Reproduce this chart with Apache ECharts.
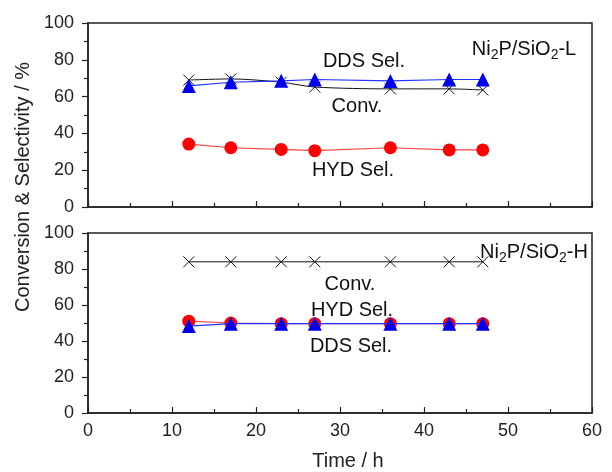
<!DOCTYPE html>
<html><head><meta charset="utf-8">
<script src="https://cdn.jsdelivr.net/npm/echarts@6/dist/echarts.min.js"></script>
<style>html,body{margin:0;padding:0;background:#fff}#c{width:612px;height:472px}</style>
</head><body><div id="c"></div>
<script>
var time = [12, 17, 23, 27, 36, 43, 47];
var convL = [69.0, 69.6, 67.8, 65.2, 64.2, 64.2, 63.6];
var ddsL  = [65.8, 67.8, 68.6, 69.3, 68.5, 69.3, 69.3];
var hydL  = [34.2, 32.2, 31.3, 30.6, 32.2, 31.0, 31.0];
var convH = [84, 84, 84, 84, 84, 84, 84];
var ddsH  = [48.3, 49.6, 49.6, 49.6, 49.6, 49.6, 49.6];
var hydH  = [51.0, 50.0, 49.6, 49.6, 49.6, 49.6, 49.6];
var xTicks = [0, 10, 20, 30, 40, 50, 60];
var yTicks = [0, 20, 40, 60, 80, 100];

function pairs(ys){ return time.map(function(t,i){ return [t, ys[i]]; }); }
var FONT = 'Liberation Sans';
var cross = 'path://M0,0L10,10M10,0L0,10';

function xAxis(gi, showLabel, name){
  return {
    type:'value', gridIndex: gi, min: xTicks[0], max: xTicks[xTicks.length-1], interval: 10,
    axisLine:{show:true, lineStyle:{color:'#222', width:1.5}},
    axisTick:{show:true, inside:true, length:6, lineStyle:{color:'#222', width:1.2}},
    minorTick:{show:true, splitNumber:2, length:4, lineStyle:{color:'#222', width:1.2}},
    splitLine:{show:false},
    axisLabel:{show:showLabel, color:'#222', fontSize:18, fontFamily:FONT, margin:9},
    name: name || '', nameLocation:'middle', nameGap:38,
    nameTextStyle:{color:'#222', fontSize:20, fontFamily:FONT, padding:[0,0,0,16]}
  };
}
function yAxis(gi){
  return {
    type:'value', gridIndex: gi, min: yTicks[0], max: yTicks[yTicks.length-1], interval: 20,
    axisLine:{show:true, lineStyle:{color:'#222', width:1.5}},
    axisTick:{show:true, inside:false, length:6, lineStyle:{color:'#222', width:1.2}},
    minorTick:{show:true, splitNumber:2, length:4, lineStyle:{color:'#222', width:1.2}},
    splitLine:{show:false},
    axisLabel:{color:'#222', fontSize:18, fontFamily:FONT, margin:14}
  };
}
function conv(gi, data, smooth){
  return {type:'line', xAxisIndex:gi, yAxisIndex:gi, data:pairs(data), smooth:smooth,
    symbol:cross, symbolSize:11, lineStyle:{color:'#111', width:1},
    itemStyle:{color:'rgba(0,0,0,0)', borderColor:'#111', borderWidth:1}, z:3};
}
function dds(gi, data){
  return {type:'line', xAxisIndex:gi, yAxisIndex:gi, data:pairs(data),
    symbol:'triangle', symbolSize:14, lineStyle:{color:'#2233ff', width:1.2},
    itemStyle:{color:'#0000ee'}, z:5};
}
function hyd(gi, data){
  return {type:'line', xAxisIndex:gi, yAxisIndex:gi, data:pairs(data),
    symbol:'circle', symbolSize:13, lineStyle:{color:'#ff4444', width:1.2},
    itemStyle:{color:'#ff0000'}, z:4};
}
var rich = {
  a:{fontSize:20, fontFamily:FONT, fill:'#111'},
  s:{fontSize:14, fontFamily:FONT, fill:'#111', padding:[12,0,0,0]}
};
function txt(x, y, s){
  return {type:'text', x:x, y:y, style:{text:s, font:'20px "Liberation Sans"', fill:'#111', align:'center', verticalAlign:'middle'}};
}
var chart = echarts.init(document.getElementById('c'), null, {renderer:'canvas'});
chart.setOption({
  animation:false,
  backgroundColor:'#fff',
  grid:[
    {left:88, right:20, top:23, height:184, show:true, borderColor:'#222', borderWidth:1.5},
    {left:88, right:20, top:233, height:183, show:true, borderColor:'#222', borderWidth:1.5}
  ],
  xAxis:[xAxis(0,false), xAxis(1,true,'Time / h')],
  yAxis:[yAxis(0), yAxis(1)],
  series:[conv(0,convL,0.3), dds(0,ddsL), hyd(0,hydL), conv(1,convH,false), hyd(1,hydH), dds(1,ddsH)],
  graphic:[
    {type:'text', x:23, y:187, rotation:Math.PI/2,
      style:{text:'Conversion & Selectivity / %', font:'20px "Liberation Sans"', fill:'#222', align:'center', verticalAlign:'middle'}},
    txt(364, 61, 'DDS Sel.'),
    txt(357, 106, 'Conv.'),
    txt(353, 170, 'HYD Sel.'),
    txt(350, 284, 'Conv.'),
    txt(352, 310, 'HYD Sel.'),
    txt(351, 346, 'DDS Sel.'),
    {type:'text', x:524, y:49, style:{text:'{a|Ni}{s|2}{a|P/SiO}{s|2}{a|-L}', rich:rich, align:'center', verticalAlign:'middle'}},
    {type:'text', x:534, y:252, style:{text:'{a|Ni}{s|2}{a|P/SiO}{s|2}{a|-H}', rich:rich, align:'center', verticalAlign:'middle'}}
  ]
});
</script></body></html>
